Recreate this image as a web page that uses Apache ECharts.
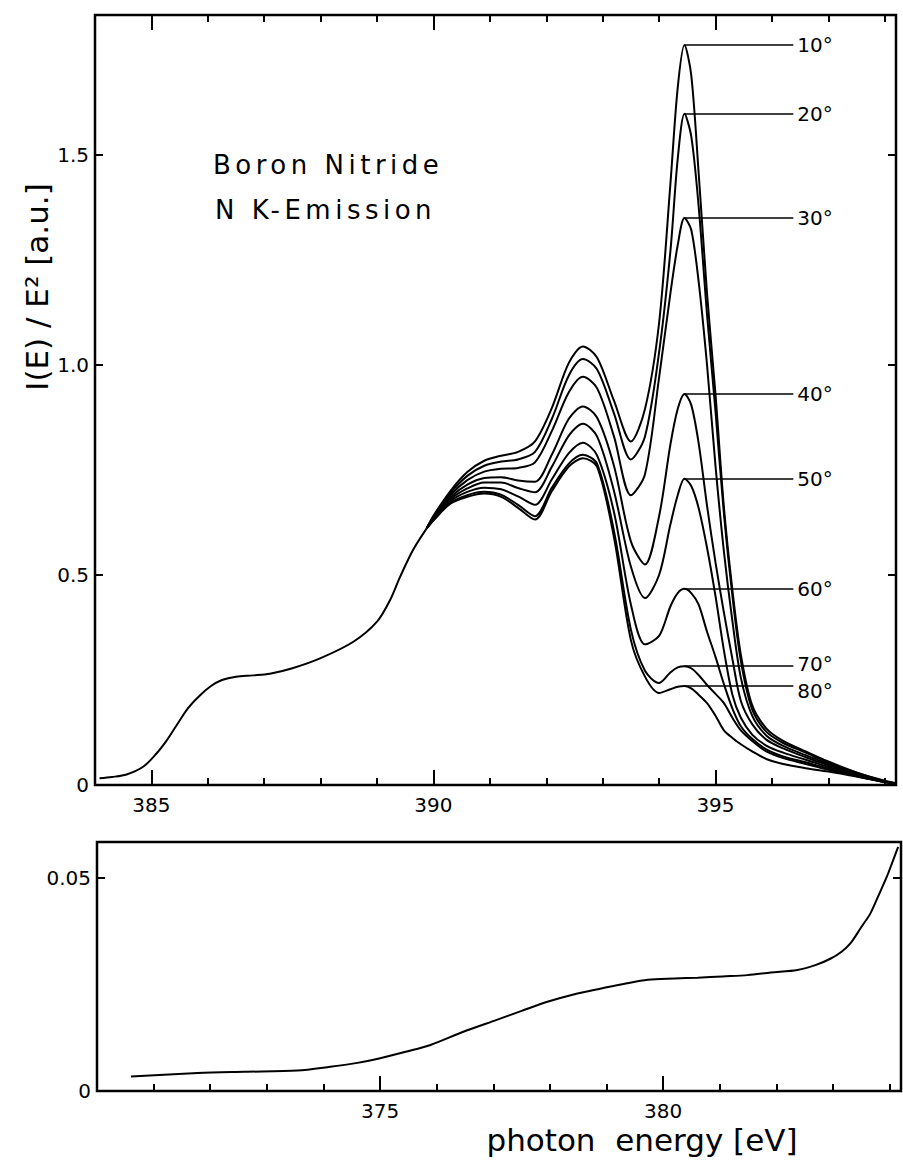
<!DOCTYPE html>
<html><head><meta charset="utf-8">
<script src="https://cdn.jsdelivr.net/npm/echarts@6/dist/echarts.min.js"></script>
<style>html,body{margin:0;padding:0;background:#fff}#c{width:903px;height:1161px}</style>
</head><body><div id="c"></div>
<script>
// ---- common low-energy part of the N K-emission spectrum (all angles coincide)
const baseEnergy = [384.08, 384.3, 384.56, 384.86, 385.09, 385.25, 385.45, 385.65, 385.85, 386.05, 386.25, 386.5, 386.8, 387.1, 387.5, 388.0, 388.58, 389.0, 389.23, 389.41, 389.64, 389.88];
const baseIntensity = [0.016, 0.019, 0.025, 0.044, 0.075, 0.102, 0.143, 0.183, 0.212, 0.235, 0.250, 0.258, 0.261, 0.265, 0.278, 0.302, 0.341, 0.389, 0.440, 0.496, 0.560, 0.611];

// ---- angle-dependent part
const energy = [390.0, 390.3, 390.6, 390.9, 391.2, 391.5, 391.8, 392.1, 392.4, 392.65, 392.9, 393.2, 393.5, 393.75, 394.0, 394.2, 394.33, 394.45, 394.57, 394.7, 394.85, 395.0, 395.15, 395.3, 395.45, 395.65, 395.9, 396.2, 396.6, 397.0, 397.5, 398.0, 398.2];
const angleLabels = ['10°', '20°', '30°', '40°', '50°', '60°', '70°', '80°'];
const i10 = [0.641, 0.700, 0.745, 0.772, 0.784, 0.793, 0.818, 0.898, 1.005, 1.044, 1.018, 0.915, 0.818, 0.895, 1.100, 1.430, 1.660, 1.762, 1.690, 1.460, 1.170, 0.930, 0.660, 0.464, 0.310, 0.190, 0.135, 0.105, 0.080, 0.056, 0.030, 0.010, 0.004];
const i20 = [0.639, 0.695, 0.736, 0.760, 0.770, 0.775, 0.793, 0.872, 0.975, 1.014, 0.990, 0.885, 0.775, 0.830, 1.030, 1.270, 1.490, 1.598, 1.545, 1.380, 1.120, 0.890, 0.645, 0.450, 0.295, 0.180, 0.127, 0.100, 0.077, 0.053, 0.029, 0.009, 0.004];
const i30 = [0.637, 0.690, 0.726, 0.746, 0.753, 0.755, 0.768, 0.843, 0.935, 0.972, 0.945, 0.830, 0.690, 0.740, 0.970, 1.170, 1.285, 1.350, 1.322, 1.200, 1.000, 0.760, 0.555, 0.390, 0.255, 0.165, 0.118, 0.093, 0.071, 0.050, 0.027, 0.008, 0.003];
const i40 = [0.635, 0.685, 0.715, 0.731, 0.733, 0.725, 0.722, 0.787, 0.872, 0.901, 0.875, 0.760, 0.580, 0.525, 0.640, 0.810, 0.895, 0.931, 0.905, 0.815, 0.665, 0.530, 0.410, 0.300, 0.200, 0.145, 0.108, 0.087, 0.066, 0.047, 0.026, 0.008, 0.003];
const i50 = [0.633, 0.680, 0.706, 0.720, 0.720, 0.707, 0.697, 0.758, 0.832, 0.860, 0.830, 0.700, 0.520, 0.445, 0.500, 0.620, 0.690, 0.729, 0.712, 0.660, 0.565, 0.450, 0.320, 0.215, 0.160, 0.120, 0.094, 0.077, 0.060, 0.043, 0.024, 0.008, 0.003];
const i60 = [0.632, 0.676, 0.698, 0.708, 0.704, 0.687, 0.667, 0.728, 0.790, 0.815, 0.785, 0.650, 0.430, 0.335, 0.355, 0.425, 0.457, 0.467, 0.457, 0.430, 0.365, 0.305, 0.240, 0.182, 0.140, 0.110, 0.085, 0.068, 0.054, 0.039, 0.022, 0.007, 0.003];
const i70 = [0.630, 0.672, 0.690, 0.698, 0.691, 0.667, 0.640, 0.708, 0.765, 0.786, 0.765, 0.605, 0.370, 0.272, 0.243, 0.268, 0.280, 0.283, 0.278, 0.262, 0.238, 0.217, 0.195, 0.160, 0.130, 0.105, 0.080, 0.064, 0.050, 0.036, 0.021, 0.007, 0.003];
const i80 = [0.630, 0.670, 0.686, 0.694, 0.686, 0.660, 0.632, 0.700, 0.758, 0.778, 0.758, 0.590, 0.345, 0.258, 0.219, 0.228, 0.234, 0.236, 0.230, 0.215, 0.195, 0.165, 0.130, 0.112, 0.097, 0.080, 0.062, 0.050, 0.040, 0.032, 0.020, 0.007, 0.003];
const curves = [i10, i20, i30, i40, i50, i60, i70, i80];

// ---- low energy tail (lower panel)
const lowEnergy = [370.6, 371.78, 372.6, 373.54, 374.12, 374.6, 375.0, 375.45, 375.89, 376.47, 377.06, 377.5, 377.97, 378.4, 378.85, 379.3, 379.73, 380.2, 380.61, 381.05, 381.49, 381.9, 382.37, 382.7, 382.96, 383.15, 383.31, 383.5, 383.66, 383.8, 383.95, 384.05, 384.15];
const lowIntensity = [0.0034, 0.0042, 0.0045, 0.0048, 0.0057, 0.0066, 0.0077, 0.0092, 0.0108, 0.0139, 0.0167, 0.0188, 0.0210, 0.0226, 0.0239, 0.0251, 0.0261, 0.0264, 0.0266, 0.0269, 0.0272, 0.0278, 0.0284, 0.0296, 0.0311, 0.0327, 0.0347, 0.0385, 0.0417, 0.0458, 0.0503, 0.0538, 0.0573];

// ---- ticks
const topMajor = [385, 390, 395];
const topMinor = [384, 386, 387, 388, 389, 391, 392, 393, 394, 396, 397, 398];
const topYTicks = [0, 0.5, 1.0, 1.5];
const lowMajor = [370, 375, 380];
const lowLabels = [375, 380];
const lowMinor = [371, 372, 373, 374, 376, 377, 378, 379, 381, 382, 383, 384];
const lowYTicks = [0, 0.05];

const FONT = 'DejaVu Sans';
const LEADER_END = 396.38;
const TITLE1 = 'Boron Nitride';
const TITLE2 = 'N K-Emission';

function xAx(grid, pos, min, max, ticks, len, labels) {
  return {
    type: 'value', gridIndex: grid, position: pos, min: min, max: max,
    axisLine: {show: false}, splitLine: {show: false},
    axisTick: {show: true, inside: true, length: len, customValues: ticks, lineStyle: {color: '#000', width: 2}},
    axisLabel: labels ? {show: true, customValues: labels, color: '#000', fontSize: 20, fontFamily: FONT, margin: 10, formatter: v => String(v)} : {show: false}
  };
}
function yAx(grid, pos, max, ticks, labels, fmt) {
  return {
    type: 'value', gridIndex: grid, position: pos, min: 0, max: max,
    axisLine: {show: false}, splitLine: {show: false},
    axisTick: {show: true, inside: true, length: 8, customValues: ticks, lineStyle: {color: '#000', width: 2}},
    axisLabel: labels ? {show: true, customValues: ticks, color: '#000', fontSize: 20, fontFamily: FONT, margin: 6, formatter: fmt} : {show: false}
  };
}

const lineStyle = {color: '#000', width: 2};
const series = [];
series.push({
  type: 'line', xAxisIndex: 0, yAxisIndex: 0, showSymbol: false, smooth: 0.3,
  lineStyle: lineStyle, data: baseEnergy.map((e, i) => [e, baseIntensity[i]])
});
const lastBase = [baseEnergy[baseEnergy.length - 1], baseIntensity[baseIntensity.length - 1]];
const labelShift = [0, 0, 0, 0, 0, 0, -2, 5];
curves.forEach((c, k) => {
  const pts = energy.map((e, i) => [e, c[i]]);
  let pk = null;
  pts.forEach(p => { if (p[0] >= 394 && (!pk || p[1] > pk[1])) pk = p; });
  series.push({
    type: 'line', xAxisIndex: 0, yAxisIndex: 0, showSymbol: false, smooth: 0.3,
    lineStyle: lineStyle, data: [lastBase].concat(pts),
    markLine: {
      silent: true, symbol: ['none', 'none'], animation: false,
      lineStyle: {color: '#000', width: 1.5, type: 'solid'},
      label: {show: true, position: 'end', distance: 4, offset: [0, labelShift[k]], formatter: angleLabels[k], color: '#000', fontSize: 20, fontFamily: FONT},
      emphasis: {disabled: true},
      data: [[{coord: [pk[0], pk[1]]}, {coord: [LEADER_END, pk[1]]}]]
    }
  });
});
series.push({
  type: 'line', xAxisIndex: 4, yAxisIndex: 2, showSymbol: false, smooth: 0.3,
  lineStyle: lineStyle, data: lowEnergy.map((e, i) => [e, lowIntensity[i]])
});

const chart = echarts.init(document.getElementById('c'), null, {renderer: 'svg'});
chart.setOption({
  animation: false,
  backgroundColor: '#fff',
  grid: [
    {left: 95, top: 15, width: 801, height: 770, show: true, borderColor: '#000', borderWidth: 2.5, backgroundColor: 'transparent'},
    {left: 97, top: 842, width: 804, height: 249, show: true, borderColor: '#000', borderWidth: 2.5, backgroundColor: 'transparent'}
  ],
  xAxis: [
    xAx(0, 'bottom', 384, 398.2, topMajor, 15, topMajor),
    xAx(0, 'bottom', 384, 398.2, topMinor, 7, null),
    xAx(0, 'top', 384, 398.2, topMajor, 15, null),
    xAx(0, 'top', 384, 398.2, topMinor, 7, null),
    xAx(1, 'bottom', 370, 384.2, lowMajor, 15, lowLabels),
    xAx(1, 'bottom', 370, 384.2, lowMinor, 7, null)
  ],
  yAxis: [
    yAx(0, 'left', 1.8333, topYTicks, true, v => v === 0 ? '0' : v.toFixed(1)),
    yAx(0, 'right', 1.8333, topYTicks, false),
    yAx(1, 'left', 0.05845, lowYTicks, true, v => v === 0 ? '0' : String(v)),
    yAx(1, 'right', 0.05845, lowYTicks, false)
  ],
  graphic: [
    {type: 'text', x: 213, y: 165, style: {text: TITLE1, fill: '#000', fontSize: 26, fontFamily: FONT, align: 'left', verticalAlign: 'middle'}},
    {type: 'text', x: 215, y: 210, style: {text: TITLE2, fill: '#000', fontSize: 26, fontFamily: FONT, align: 'left', verticalAlign: 'middle'}},
    {type: 'text', x: 37, y: 287, rotation: Math.PI / 2, style: {text: 'I(E) / E² [a.u.]', fill: '#000', fontSize: 31, fontFamily: FONT, align: 'center', verticalAlign: 'middle'}},
    {type: 'text', x: 642, y: 1140, style: {text: 'photon  energy [eV]', fill: '#000', fontSize: 31, fontFamily: FONT, align: 'center', verticalAlign: 'middle'}}
  ],
  series: series
});

// widen the letter spacing of the two title lines, as in the original lettering
function spaceTitles() {
  const texts = document.querySelectorAll('#c svg text');
  texts.forEach(t => {
    const s = t.textContent;
    if (s === TITLE1 || s === TITLE2) t.setAttribute('letter-spacing', '4.5');
  });
}
chart.getZr().flush && chart.getZr().flush();
spaceTitles();
chart.on('finished', spaceTitles);
setTimeout(spaceTitles, 0);
setTimeout(spaceTitles, 100);
</script>
</body></html>
